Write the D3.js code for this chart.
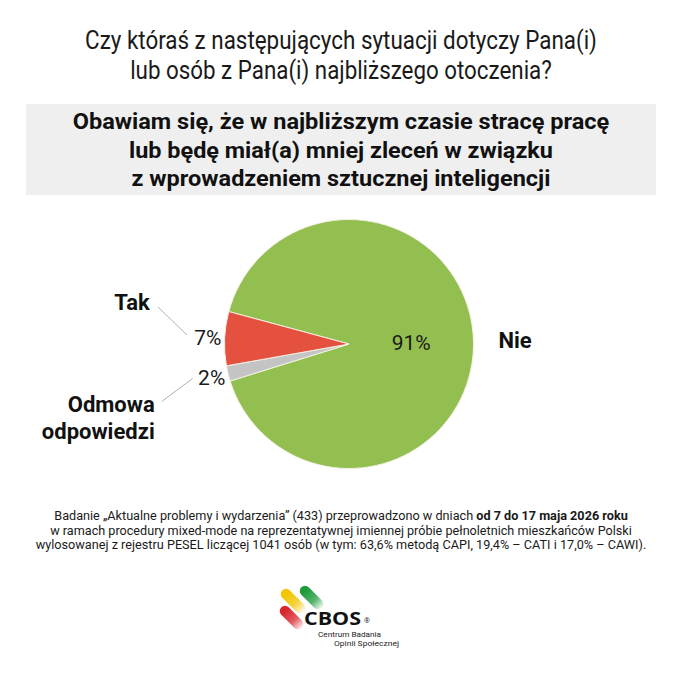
<!DOCTYPE html>
<html>
<head>
<meta charset="utf-8">
<script src="https://cdn.jsdelivr.net/npm/d3@7"></script>
<style>
  html, body { margin: 0; padding: 0; background: #fff; }
  svg { display: block; font-family: Roboto, 'Noto Sans', sans-serif; }
</style>
</head>
<body>
<div id="chart"></div>
<script>
// CBOS pie: fear of losing work because of AI. Single pie + surrounding text.

const categories = ['Nie', 'Odmowa odpowiedzi', 'Tak'];
const values = [91, 2, 7];
const colors = ['#93bf50', '#c4c4c4', '#e4513f'];

const titleLines = [
  'Czy któraś z następujących sytuacji dotyczy Pana(i)',
  'lub osób z Pana(i) najbliższego otoczenia?',
];
const questionLines = [
  'Obawiam się, że w najbliższym czasie stracę pracę',
  'lub będę miał(a) mniej zleceń w związku',
  'z wprowadzeniem sztucznej inteligencji',
];
const noteLines = [
  [['Badanie „Aktualne problemy i wydarzenia” (433) przeprowadzono w dniach ', false], ['od 7 do 17 maja 2026 roku', true]],
  [['w ramach procedury mixed-mode na reprezentatywnej imiennej próbie pełnoletnich mieszkańców Polski', false]],
  [['wylosowanej z rejestru PESEL liczącej 1041 osób (w tym: 63,6% metodą CAPI, 19,4% – CATI i 17,0% – CAWI).', false]],
];

const W = 680, H = 679;
const svg = d3.select('#chart').append('svg')
  .attr('width', W).attr('height', H)
  .attr('viewBox', `0 0 ${W} ${H}`);

// squeeze text horizontally to mimic the condensed face of the original
function fit(sel, cx, width) {
  const n = sel.node();
  const w = n.getComputedTextLength ? n.getComputedTextLength() : n.getBBox().width;
  const k = width / w;
  sel.attr('transform', `translate(${cx},0) scale(${k},1) translate(${-cx},0)`);
}

// --- Title ---
const titleW = [512, 422];
titleLines.forEach((t, i) => {
  const el = svg.append('text')
    .attr('x', 341).attr('y', 49 + i * 30.5)
    .attr('text-anchor', 'middle')
    .attr('font-size', 25).attr('fill', '#1a1a1a')
    .text(t);
  fit(el, 341, titleW[i]);
});

// --- Question box ---
svg.append('rect')
  .attr('x', 26).attr('y', 104).attr('width', 630).attr('height', 91)
  .attr('fill', '#efefef');

const qW = [537, 424, 419];
questionLines.forEach((t, i) => {
  const el = svg.append('text')
    .attr('x', 341).attr('y', 129.5 + i * 28.2)
    .attr('text-anchor', 'middle')
    .attr('font-size', 22).attr('font-weight', 700).attr('fill', '#111')
    .text(t);
  fit(el, 341, qW[i]);
});

// --- Pie ---
const cx = 349, cy = 344, R = 124.5;
const start = -74.9 * Math.PI / 180;

const pie = d3.pie().sort(null)
  .startAngle(start).endAngle(start + 2 * Math.PI)
  .value(d => d.value);
const arcs = pie(categories.map((c, i) => ({ cat: c, value: values[i], color: colors[i] })));

const arc = d3.arc().innerRadius(0).outerRadius(R);
const outerArc = d3.arc().innerRadius(R * 1.135).outerRadius(R * 1.135);

const g = svg.append('g').attr('transform', `translate(${cx},${cy})`);

g.selectAll('path.slice')
  .data(arcs)
  .enter().append('path')
  .attr('class', 'slice')
  .attr('d', arc)
  .attr('fill', d => d.data.color)
  .attr('stroke', '#f4f1e4')
  .attr('stroke-width', 1);

// percent labels: big slice inside, small ones just outside the rim
g.selectAll('text.pct')
  .data(arcs)
  .enter().append('text')
  .attr('class', 'pct')
  .attr('transform', d => {
    const p = d.data.value > 50 ? arc.centroid(d) : outerArc.centroid(d);
    return `translate(${p[0]},${p[1]})`;
  })
  .attr('dy', '0.36em')
  .attr('text-anchor', 'middle')
  .attr('font-size', 21).attr('fill', '#1a1a1a')
  .text(d => d.data.value + '%');

// category labels with leader lines
const byCat = new Map(arcs.map(d => [d.data.cat, d]));

function pctPos(d) { return outerArc.centroid(d); }

// Tak
{
  const p = pctPos(byCat.get('Tak'));
  g.append('line')
    .attr('x1', p[0] - 21).attr('y1', p[1] - 3)
    .attr('x2', p[0] - 50).attr('y2', p[1] - 31)
    .attr('stroke', '#b3b3b3').attr('stroke-width', 1);
  g.append('text')
    .attr('x', p[0] - 58).attr('y', p[1] - 28)
    .attr('text-anchor', 'end')
    .attr('font-size', 22).attr('font-weight', 700).attr('fill', '#111')
    .text('Tak');
}
// Odmowa odpowiedzi
{
  const p = pctPos(byCat.get('Odmowa odpowiedzi'));
  g.append('line')
    .attr('x1', p[0] - 19).attr('y1', p[1] + 1)
    .attr('x2', p[0] - 50).attr('y2', p[1] + 24)
    .attr('stroke', '#b3b3b3').attr('stroke-width', 1);
  const t = g.append('text')
    .attr('x', p[0] - 57).attr('y', p[1] + 35)
    .attr('text-anchor', 'end')
    .attr('font-size', 22).attr('font-weight', 700).attr('fill', '#111');
  t.append('tspan').attr('x', p[0] - 57).text('Odmowa');
  t.append('tspan').attr('x', p[0] - 57).attr('dy', 27).text('odpowiedzi');
}
// Nie
{
  g.append('text')
    .attr('x', R + 25).attr('y', -4)
    .attr('dy', '0.36em')
    .attr('font-size', 22).attr('font-weight', 700).attr('fill', '#111')
    .text('Nie');
}

// --- Footnote ---
const noteW = [574, 582, 611];
noteLines.forEach((parts, i) => {
  const el = svg.append('text')
    .attr('x', 341).attr('y', 520 + i * 14.7)
    .attr('text-anchor', 'middle')
    .attr('font-size', 13.5).attr('fill', '#1a1a1a');
  parts.forEach(([s, b]) => el.append('tspan').attr('font-weight', b ? 700 : 400).text(s));
  fit(el, 341, noteW[i]);
});

// --- CBOS logo ---
const defs = svg.append('defs');
const pill = [
  { id: 'gy', c: '#f2c500', x1: 286, y1: 594, x2: 300, y2: 608 },
  { id: 'gg', c: '#1f9a3a', x1: 305, y1: 591, x2: 318, y2: 604 },
  { id: 'gr', c: '#d8262e', x1: 285, y1: 611, x2: 298, y2: 624 },
];
pill.forEach(p => {
  const lg = defs.append('linearGradient').attr('id', p.id)
    .attr('gradientUnits', 'userSpaceOnUse')
    .attr('x1', p.x1).attr('y1', p.y1).attr('x2', p.x2 + 4).attr('y2', p.y2 + 4);
  lg.append('stop').attr('offset', 0).attr('stop-color', p.c);
  lg.append('stop').attr('offset', 0.55).attr('stop-color', p.c).attr('stop-opacity', 0.75);
  lg.append('stop').attr('offset', 1).attr('stop-color', p.c).attr('stop-opacity', 0.05);
  svg.append('line')
    .attr('x1', p.x1).attr('y1', p.y1).attr('x2', p.x2).attr('y2', p.y2)
    .attr('stroke', `url(#${p.id})`).attr('stroke-width', 10.5)
    .attr('stroke-linecap', 'round');
});

svg.append('text')
  .attr('x', 304).attr('y', 625)
  .attr('font-family', "'Open Sans', sans-serif")
  .attr('font-size', 17).attr('font-weight', 700).attr('fill', '#111')
  .attr('textLength', 57).attr('lengthAdjust', 'spacingAndGlyphs')
  .text('CBOS');
svg.append('text')
  .attr('x', 364).attr('y', 623)
  .attr('font-family', "'Open Sans', sans-serif")
  .attr('font-size', 7).attr('fill', '#111')
  .text('®');
svg.append('text')
  .attr('x', 318).attr('y', 637)
  .attr('font-size', 7.5).attr('fill', '#222')
  .attr('textLength', 63).attr('lengthAdjust', 'spacingAndGlyphs')
  .text('Centrum Badania');
svg.append('text')
  .attr('x', 334).attr('y', 646)
  .attr('font-size', 7.5).attr('fill', '#222')
  .attr('textLength', 65).attr('lengthAdjust', 'spacingAndGlyphs')
  .text('Opinii Społecznej');
</script>
</body>
</html>
